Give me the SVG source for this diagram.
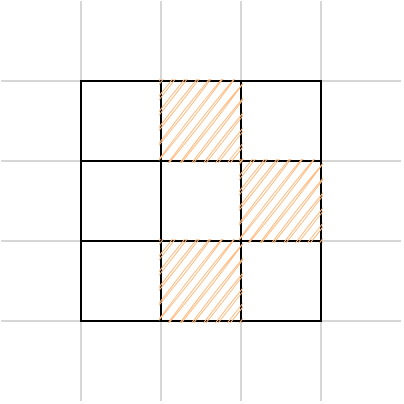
<svg xmlns="http://www.w3.org/2000/svg" width="404" height="404" viewBox="0 0 404 404">
<style>
.grid{stroke:#d6d6d6;stroke-width:2;fill:none}
.cell{stroke:#000;stroke-width:2;fill:none}
.h{stroke:#ffbb80;stroke-width:1;fill:none;stroke-linecap:round}
</style>
<defs>
<clipPath id="cp"><rect x="-42" y="-42" width="84" height="84"/></clipPath>
<g id="hatch">
<g transform="rotate(38)">
<path class="h" d="M-57,-70 Q-54,0 -57,70 M-56,-70 Q-59.5,0 -56.5,70 M-47.5,-70 Q-44.5,0 -47.5,70 M-46.5,-70 Q-50,0 -47,70 M-38,-70 Q-35,0 -38,70 M-37,-70 Q-40.5,0 -37.5,70 M-28.5,-70 Q-25.5,0 -28.5,70 M-27.5,-70 Q-31,0 -28,70 M-19,-70 Q-16,0 -19,70 M-18,-70 Q-21.5,0 -18.5,70 M-9.5,-70 Q-6.5,0 -9.5,70 M-8.5,-70 Q-12,0 -9,70 M0,-70 Q3,0 0,70 M1,-70 Q-2.5,0 0.5,70 M9.5,-70 Q12.5,0 9.5,70 M10.5,-70 Q7,0 10,70 M19,-70 Q22,0 19,70 M20,-70 Q16.5,0 19.5,70 M28.5,-70 Q31.5,0 28.5,70 M29.5,-70 Q26,0 29,70 M38,-70 Q41,0 38,70 M39,-70 Q35.5,0 38.5,70 M47.5,-70 Q50.5,0 47.5,70 M48.5,-70 Q45,0 48,70 M57,-70 Q60,0 57,70 M58,-70 Q54.5,0 57.5,70"/>
</g>
</g>
</defs>
<g id="gridlines">
<path class="grid" d="M81,1V401M161,1V401M241,1V401M321,1V401M1,81H401M1,161H401M1,241H401M1,321H401"/>
</g>
<g id="cells">
<rect id="c11" class="cell" x="81" y="81" width="80" height="80"/>
<rect id="c12" class="cell" x="161" y="81" width="80" height="80"/>
<rect id="c13" class="cell" x="241" y="81" width="80" height="80"/>
<rect id="c21" class="cell" x="81" y="161" width="80" height="80"/>
<rect id="c22" class="cell" x="161" y="161" width="80" height="80"/>
<rect id="c23" class="cell" x="241" y="161" width="80" height="80"/>
<rect id="c31" class="cell" x="81" y="241" width="80" height="80"/>
<rect id="c32" class="cell" x="161" y="241" width="80" height="80"/>
<rect id="c33" class="cell" x="241" y="241" width="80" height="80"/>
</g>
<g id="hatched">
<use href="#hatch" transform="translate(201,121)" clip-path="url(#cp)"/>
<use href="#hatch" transform="translate(281,201)" clip-path="url(#cp)"/>
<use href="#hatch" transform="translate(201,281)" clip-path="url(#cp)"/>
</g>
</svg>
